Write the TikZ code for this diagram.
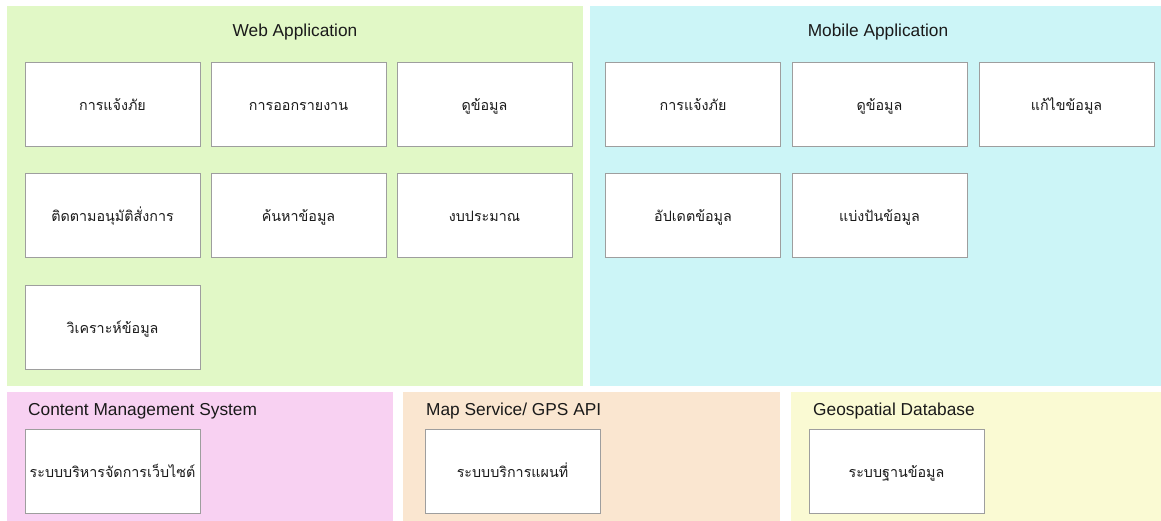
\documentclass[tikz,border=0pt]{standalone}
\usepackage{fontspec}
\setmainfont{Liberation Sans}
\newfontfamily\thaifont[Script=Thai]{Loma}
\definecolor{webfill}{HTML}{E1F8C6}
\definecolor{mobfill}{HTML}{CCF5F7}
\definecolor{cmsfill}{HTML}{F8D1F2}
\definecolor{mapfill}{HTML}{FAE6D0}
\definecolor{geofill}{HTML}{FAFAD3}
\definecolor{boxline}{HTML}{9E9E9E}
\definecolor{ink}{HTML}{1A1A1A}
\tikzset{
  panel/.style={inner sep=0pt, outer sep=0pt, draw=none, anchor=north west},
  ptitle/.style={font=\fontsize{17.3}{19}\selectfont, text=ink, inner sep=0pt},
  funcbox/.style={draw=boxline, line width=1pt, fill=white, minimum width=175pt,
    minimum height=84pt, inner sep=0pt, text height=14pt, text depth=2pt,
    font=\thaifont\fontsize{14.3}{17}\selectfont, text=ink}
}
\begin{document}
\begin{tikzpicture}[x=1pt, y=-1pt]
\useasboundingbox (0,0) rectangle (1161,521);
\fill[white] (0,0) rectangle (1161,521);

% panels
\node[panel, fill=webfill, minimum width=576pt, minimum height=380pt] (web) at (7,6) {};
\node[panel, fill=mobfill, minimum width=571pt, minimum height=380pt] (mob) at (590,6) {};
\node[panel, fill=cmsfill, minimum width=386pt, minimum height=129pt] (cms) at (7,392) {};
\node[panel, fill=mapfill, minimum width=377pt, minimum height=129pt] (map) at (403,392) {};
\node[panel, fill=geofill, minimum width=370pt, minimum height=129pt] (geo) at (791,392) {};

% panel titles
\node[ptitle] (webt) at (295,32) {Web Application};
\node[ptitle] (mobt) at (878,32) {Mobile Application};
\node[ptitle, anchor=west] (cmst) at (28,411) {Content Management System};
\node[ptitle, anchor=west] (mapt) at (426,411) {Map Service/ GPS API};
\node[ptitle, anchor=west] (geot) at (813,411) {Geospatial Database};

% web application functions
\node[funcbox] (w1) at (112.5,105) {การแจ้งภัย};
\node[funcbox] (w2) at (298.5,105) {การออกรายงาน};
\node[funcbox] (w3) at (484.5,105) {ดูข้อมูล};
\node[funcbox] (w4) at (112.5,215.5) {ติดตามอนุมัติสั่งการ};
\node[funcbox] (w5) at (298.5,215.5) {ค้นหาข้อมูล};
\node[funcbox] (w6) at (484.5,215.5) {งบประมาณ};
\node[funcbox] (w7) at (112.5,327) {วิเคราะห์ข้อมูล};

% mobile application functions
\node[funcbox] (m1) at (693,105) {การแจ้งภัย};
\node[funcbox] (m2) at (879.5,105) {ดูข้อมูล};
\node[funcbox] (m3) at (1066.5,105) {แก้ไขข้อมูล};
\node[funcbox] (m4) at (693,215.5) {อัปเดตข้อมูล};
\node[funcbox] (m5) at (879.5,215.5) {แบ่งปันข้อมูล};

% back-end services
\node[funcbox] (c1) at (112.5,471) {ระบบบริหารจัดการเว็บไซต์};
\node[funcbox] (p1) at (512.5,471) {ระบบบริการแผนที่};
\node[funcbox] (g1) at (896.5,471) {ระบบฐานข้อมูล};
\end{tikzpicture}
\end{document}
